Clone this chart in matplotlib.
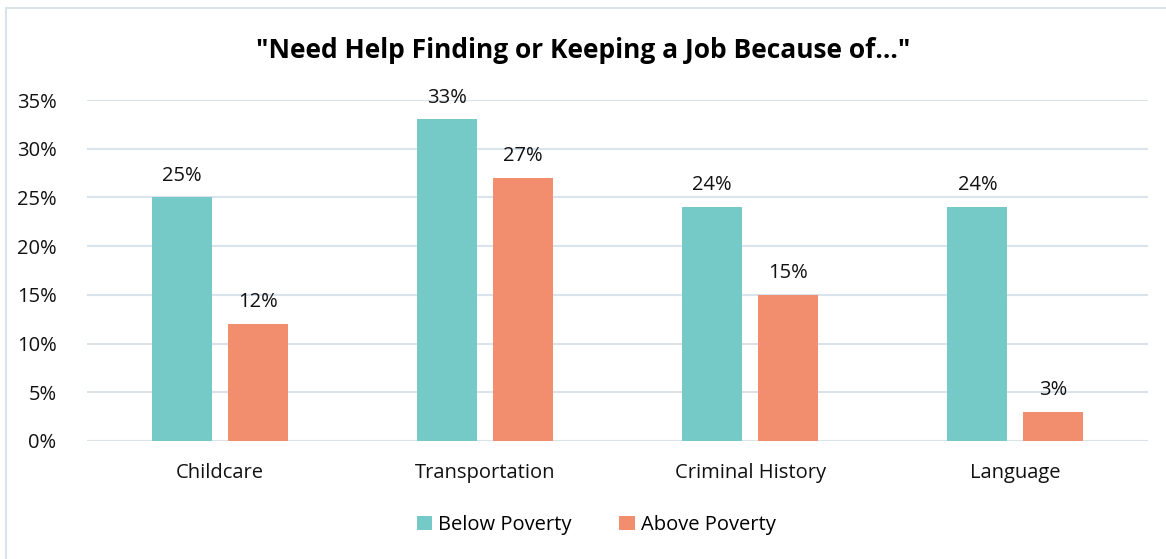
import matplotlib
matplotlib.use("Agg")
import matplotlib.pyplot as plt
import numpy as np
from matplotlib.patches import Rectangle

categories = ["Childcare", "Transportation", "Criminal History", "Language"]
below = [25, 33, 24, 24]
above = [12, 27, 15, 3]
series_names = ["Below Poverty", "Above Poverty"]
yticks = [0, 5, 10, 15, 20, 25, 30, 35]

teal = "#75CAC8"
orange = "#F28E6E"
grid_c = "#D9E3EC"

plt.rcParams['font.family'] = ['Open Sans', 'DejaVu Sans']
fs = 14.5

fig = plt.figure(figsize=(11.66, 5.59), dpi=100)
W, H = 1166, 559
# border
fig.patches.append(Rectangle((6 / W, -0.1), 1.2, (H - 8) / H + 0.1, transform=fig.transFigure,
                             fill=False, edgecolor=grid_c, linewidth=1.5))

ax = fig.add_axes([87 / W, (H - 441) / H, (1148 - 87) / W, (441 - 100) / H])
x = np.arange(len(categories))
bw = 0.226
off = 0.143
b1 = ax.bar(x - off, below, bw, color=teal, label=series_names[0], zorder=3)
b2 = ax.bar(x + off, above, bw, color=orange, label=series_names[1], zorder=3)
for bars, vals in ((b1, below), (b2, above)):
    for r, v in zip(bars, vals):
        ax.text(r.get_x() + r.get_width() / 2, v + 1.2, f"{v}%", ha="center", va="bottom",
                fontsize=fs, color="#111111")

ax.set_xlim(-0.5, 3.5)
ax.set_ylim(0, 35)
ax.set_yticks(yticks)
ax.set_yticklabels([f"{t}%" for t in yticks], fontsize=fs, color="#111111")
ax.set_xticks(x)
ax.set_xticklabels(categories, fontsize=fs, color="#111111")
ax.tick_params(length=0)
ax.tick_params(axis='y', pad=22)
ax.tick_params(axis='x', pad=16)
ax.grid(axis='y', color=grid_c, linewidth=1.5, zorder=0)
for s in ax.spines.values():
    s.set_visible(False)

fig.text(0.5, (H - 51) / H, '"Need Help Finding or Keeping a Job Because of..."', ha="center",
         va="center", fontsize=19, fontweight="bold")

fig.legend(handles=[b1, b2], labels=series_names, loc="center", bbox_to_anchor=(596 / W, (H - 525) / H),
           ncol=2, frameon=False, fontsize=fs, handlelength=0.75, handleheight=0.75,
           columnspacing=2.4, handletextpad=0.3)

fig.savefig("out.png", dpi=100)
